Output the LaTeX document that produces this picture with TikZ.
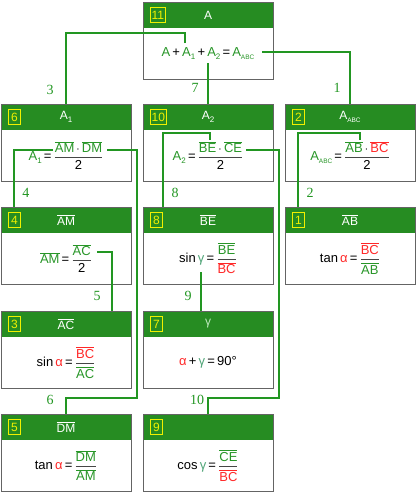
\documentclass[tikz,border=0pt]{standalone}
\usepackage{amsmath}
\usepackage{fontspec}
\setmainfont{Liberation Sans}
\newfontfamily\lblfont{Liberation Serif}
\definecolor{hdr}{RGB}{38,140,34}
\definecolor{conn}{RGB}{34,150,34}
\definecolor{tg}{RGB}{40,150,40}
\definecolor{tr}{RGB}{255,40,40}
\definecolor{tgam}{RGB}{80,165,120}
\definecolor{hgam}{RGB}{190,235,190}
\definecolor{nyel}{RGB}{240,240,0}
\definecolor{bord}{RGB}{100,100,100}
\definecolor{fbar}{RGB}{70,70,70}
\newcommand\ov[2]{{\color{#1}$\overline{\hbox{#2}}$}}
\newcommand\fr[2]{{\color{fbar}$\genfrac{}{}{0.9pt}{0}{\hbox{\color{black}#1}}{\hbox{\color{black}#2}}$}}
\newcommand\sbs[1]{\raisebox{-0.45ex}{\fontsize{8}{8}\selectfont #1}}
\newcommand\sbsm[1]{\raisebox{-0.45ex}{\fontsize{6.5}{6.5}\selectfont #1}}
\newcommand\card[6]{%
  \node[hdrbox, anchor=north west] (h#1) at (#2,#3) {#5};
  \node[bodybox, anchor=north] (b#1) at (h#1.south) {#6};
  \draw[bord, line width=1pt] (h#1.north west) rectangle (b#1.south east);
  \node[numbox, anchor=west] (n#1) at ([xshift=7]h#1.west) {#4};
}
\begin{document}
\begin{tikzpicture}[x=1pt,y=-1pt,
  hdrbox/.style={fill=hdr, draw=none, minimum width=130pt, minimum height=26pt, inner sep=0pt, outer sep=0pt, text=white, font=\fontsize{12}{12}\selectfont},
  bodybox/.style={fill=white, draw=none, minimum width=130pt, minimum height=51pt, inner sep=0pt, outer sep=0pt, font=\fontsize{13}{13}\selectfont},
  numbox/.style={draw=nyel, line width=0.9pt, text=nyel, inner sep=1.2pt, minimum height=15pt, minimum width=12pt, font=\fontsize{12}{12}\selectfont},
  conn/.style={draw=conn, line width=2pt},
  lbl/.style={text=conn, font=\lblfont\fontsize{14}{14}\selectfont, inner sep=0pt}]
\useasboundingbox (0,0) rectangle (416,493);
% cards
\card{11}{143}{2}{11}{A}{{\color{tg}A}\,+\,{\color{tg}A\sbs{1}}\,+\,{\color{tg}A\sbs{2}}\,=\,{\color{tg}A\sbsm{ABC}}}
\card{6}{1}{104}{6}{A\sbs{1}}{{\color{tg}A\sbs{1}}\,=\,\fr{\ov{tg}{AM}\,$\cdot$\,\ov{tg}{DM}}{2}}
\card{10}{143}{104}{10}{A\sbs{2}}{{\color{tg}A\sbs{2}}\,=\,\fr{\ov{tg}{BE}\,$\cdot$\,\ov{tg}{CE}}{2}}
\card{2}{285}{104}{2}{A\sbsm{ABC}}{{\color{tg}A\sbsm{ABC}}\,=\,\fr{\ov{tg}{AB}\,$\cdot$\,\ov{tr}{BC}}{2}}
\card{4}{1}{207}{4}{\ov{white}{AM}}{\ov{tg}{AM}\,=\,\fr{\ov{tg}{AC}}{2}}
\card{8}{143}{207}{8}{\ov{white}{BE}}{sin\,{\color{tgam}γ}\,=\,\fr{\ov{tg}{BE}}{\ov{tr}{BC}}}
\card{1}{285}{207}{1}{\ov{white}{AB}}{tan\,{\color{tr}α}\,=\,\fr{\ov{tr}{BC}}{\ov{tg}{AB}}}
\card{3}{1}{311}{3}{\ov{white}{AC}}{sin\,{\color{tr}α}\,=\,\fr{\ov{tr}{BC}}{\ov{tg}{AC}}}
\card{7}{143}{311}{7}{{\color{hgam}γ}}{{\color{tr}α}\,+\,{\color{tgam}γ}\,=\,90°}
\card{5}{1}{414}{5}{\ov{white}{DM}}{tan\,{\color{tr}α}\,=\,\fr{\ov{tg}{DM}}{\ov{tg}{AM}}}
\card{9}{143}{414}{9}{}{cos\,{\color{tgam}γ}\,=\,\fr{\ov{tg}{CE}}{\ov{tr}{BC}}}
% connector start points
\coordinate (sA1) at (185,43);
\coordinate (sAabc) at (262,52);
\coordinate (sA2) at (208,63);
\coordinate (sAM) at (53,150);
\coordinate (sDM) at (107,150);
\coordinate (c6) at (137,398);
\coordinate (sBE) at (210,140);
\coordinate (sCE) at (246,150);
\coordinate (c10) at (279,398);
\coordinate (sAB) at (360,140);
\coordinate (sAC) at (97,252);
\coordinate (sgam) at (201,272);
% connectors
\draw[conn] (sA1) -- ++(0,-10) -| (h6.north);
\draw[conn] (sAabc) -| (h2.north);
\draw[conn] (sA2) -- (h10.north);
\draw[conn] (sAM) -| ([xshift=13]h4.north west);
\draw[conn] (sDM) -| (c6) -| (h5.north);
\draw[conn] (sBE) -- ++(0,-7) -| ([xshift=20]h8.north west);
\draw[conn] (sCE) -| (c10) -| (h9.north);
\draw[conn] (sAB) -- ++(0,-7) -| ([xshift=13]h1.north west);
\draw[conn] (sAC) -| ([xshift=46]h3.north);
\draw[conn] (sgam) -- (sgam |- h7.north);
% labels
\node[lbl] (l3) at (50,90) {3};
\node[lbl] (l1) at (337,88) {1};
\node[lbl] (l7) at (195,88) {7};
\node[lbl] (l4) at (26,193) {4};
\node[lbl] (l6) at (50,400) {6};
\node[lbl] (l8) at (175,193) {8};
\node[lbl] (l10) at (197,400) {10};
\node[lbl] (l2) at (310,193) {2};
\node[lbl] (l5) at (97,296) {5};
\node[lbl] (l9) at (188,296) {9};
\end{tikzpicture}
\end{document}
